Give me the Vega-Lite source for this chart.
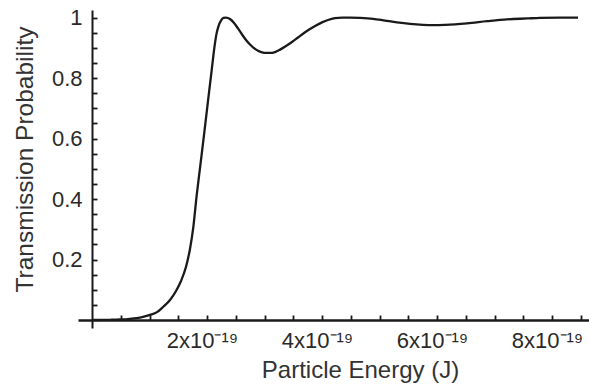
{
  "$schema": "https://vega.github.io/schema/vega-lite/v6.json",
  "width": 511,
  "height": 318,
  "autosize": {"type": "none"},
  "padding": {"left": 78, "top": 10, "right": 0, "bottom": 62},
  "background": "white",
  "config": {
    "view": {"stroke": null},
    "font": "Liberation Sans",
    "axis": {"labelFont": "Liberation Sans", "titleFont": "Liberation Sans", "labelColor": "#2a2a2a", "titleColor": "#333", "titleFontWeight": "normal"}
  },
  "data": {
    "values": [
      {"E": 0.0, "T": 0.0},
      {"E": 0.15e-19, "T": 0.0002},
      {"E": 0.313e-19, "T": 0.0007},
      {"E": 0.487e-19, "T": 0.0017},
      {"E": 0.661e-19, "T": 0.004},
      {"E": 0.835e-19, "T": 0.008},
      {"E": 1.009e-19, "T": 0.017},
      {"E": 1.130e-19, "T": 0.026},
      {"E": 1.235e-19, "T": 0.043},
      {"E": 1.357e-19, "T": 0.066},
      {"E": 1.461e-19, "T": 0.096},
      {"E": 1.548e-19, "T": 0.129},
      {"E": 1.635e-19, "T": 0.176},
      {"E": 1.704e-19, "T": 0.235},
      {"E": 1.762e-19, "T": 0.307},
      {"E": 1.821e-19, "T": 0.413},
      {"E": 1.878e-19, "T": 0.502},
      {"E": 1.948e-19, "T": 0.612},
      {"E": 2.017e-19, "T": 0.724},
      {"E": 2.082e-19, "T": 0.827},
      {"E": 2.127e-19, "T": 0.899},
      {"E": 2.165e-19, "T": 0.946},
      {"E": 2.200e-19, "T": 0.972},
      {"E": 2.243e-19, "T": 0.990},
      {"E": 2.287e-19, "T": 0.999},
      {"E": 2.330e-19, "T": 1.000},
      {"E": 2.400e-19, "T": 0.995},
      {"E": 2.470e-19, "T": 0.982},
      {"E": 2.539e-19, "T": 0.964},
      {"E": 2.609e-19, "T": 0.944},
      {"E": 2.678e-19, "T": 0.926},
      {"E": 2.748e-19, "T": 0.911},
      {"E": 2.817e-19, "T": 0.899},
      {"E": 2.887e-19, "T": 0.890},
      {"E": 2.957e-19, "T": 0.885},
      {"E": 3.026e-19, "T": 0.883},
      {"E": 3.096e-19, "T": 0.883},
      {"E": 3.183e-19, "T": 0.886},
      {"E": 3.270e-19, "T": 0.894},
      {"E": 3.374e-19, "T": 0.906},
      {"E": 3.478e-19, "T": 0.919},
      {"E": 3.583e-19, "T": 0.934},
      {"E": 3.687e-19, "T": 0.949},
      {"E": 3.791e-19, "T": 0.962},
      {"E": 3.896e-19, "T": 0.974},
      {"E": 4.000e-19, "T": 0.984},
      {"E": 4.104e-19, "T": 0.992},
      {"E": 4.226e-19, "T": 0.998},
      {"E": 4.348e-19, "T": 1.000},
      {"E": 4.487e-19, "T": 1.000},
      {"E": 4.661e-19, "T": 0.999},
      {"E": 4.887e-19, "T": 0.996},
      {"E": 5.096e-19, "T": 0.990},
      {"E": 5.304e-19, "T": 0.984},
      {"E": 5.530e-19, "T": 0.979},
      {"E": 5.757e-19, "T": 0.976},
      {"E": 5.930e-19, "T": 0.975},
      {"E": 6.139e-19, "T": 0.976},
      {"E": 6.522e-19, "T": 0.981},
      {"E": 6.870e-19, "T": 0.988},
      {"E": 7.217e-19, "T": 0.994},
      {"E": 7.565e-19, "T": 0.997},
      {"E": 7.791e-19, "T": 0.999},
      {"E": 8.139e-19, "T": 1.000},
      {"E": 8.452e-19, "T": 1.000}
    ]
  },
  "mark": {"type": "line", "interpolate": "monotone", "color": "#1a1a1a", "strokeWidth": 2.3},
  "encoding": {
    "x": {
      "field": "E", "type": "quantitative",
      "scale": {"domain": [-0.2435e-19, 8.643e-19], "nice": false, "zero": false},
      "axis": {
        "title": "Particle Energy (J)",
        "titleFontSize": 24,
        "titleX": 282,
        "titlePadding": 7,
        "offset": -8,
        "domain": true,
        "domainColor": "#1a1a1a",
        "domainWidth": 2.5,
        "grid": false,
        "values": [0.5e-19, 1e-19, 1.5e-19, 2e-19, 2.5e-19, 3e-19, 3.5e-19, 4e-19, 4.5e-19, 5e-19, 5.5e-19, 6e-19, 6.5e-19, 7e-19, 7.5e-19, 8e-19, 8.5e-19],
        "labelExpr": "round(datum.value*1e20) % 20 == 0 ? round(datum.value*1e19) + 'x10⁻¹⁹' : ''",
        "labelFontSize": 22,
        "labelPadding": 15,
        "labelOffset": -5,
        "labelFlush": false,
        "labelOverlap": false,
        "tickSize": -5,
        "tickColor": "#1a1a1a",
        "tickWidth": 1.8
      }
    },
    "y": {
      "field": "T", "type": "quantitative",
      "scale": {"domain": [-0.02645, 1.025], "nice": false, "zero": false},
      "axis": {
        "title": "Transmission Probability",
        "titleFontSize": 24.5,
        "titlePadding": 14,
        "titleY": 149,
        "offset": -14,
        "domain": true,
        "domainColor": "#1a1a1a",
        "domainWidth": 2,
        "grid": false,
        "values": [0.05, 0.1, 0.15, 0.2, 0.25, 0.3, 0.35, 0.4, 0.45, 0.5, 0.55, 0.6, 0.65, 0.7, 0.75, 0.8, 0.85, 0.9, 0.95, 1.0],
        "labelExpr": "round(datum.value*100) % 20 == 0 ? (datum.value == 1 ? '1' : format(datum.value, '.1f')) : ''",
        "labelFontSize": 22,
        "labelPadding": 15,
        "labelOverlap": false,
        "tickSize": -5,
        "tickColor": "#1a1a1a",
        "tickWidth": 1.8
      }
    }
  }
}
